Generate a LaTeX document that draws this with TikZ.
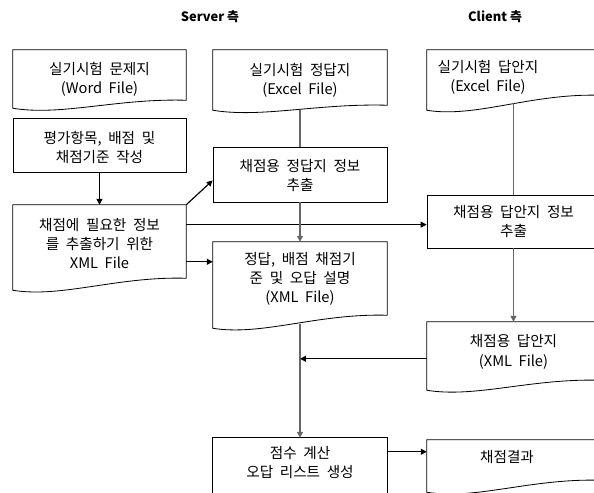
\documentclass[tikz,border=0pt]{standalone}
\usepackage{fontspec}
\setmainfont[WordSpace=2]{Noto Sans CJK KR}
\newfontfamily\titlefont{Noto Sans CJK KR}
\usetikzlibrary{fit,calc,arrows.meta}
\newcommand\docshape[3]{%
  \draw[outline] ($(#1.south west)+(0,#3)$) -- (#1.north west) -- (#1.north east) -- ($(#1.south east)+(0,#2)$)
    .. controls ($(#1.south east)!0.4!(#1.south west)+(0,#2-2)$) and ($(#1.south east)!0.72!(#1.south west)+(0,#3+8)$) .. ($(#1.south west)+(0,#3)$) -- cycle;}
\begin{document}
\begin{tikzpicture}[x=0.03cm,y=-0.03cm,
  boxfit/.style={inner sep=0pt},
  txt/.style={inner sep=0pt, align=center, font=\fontsize{12.5}{16.5}\selectfont},
  outline/.style={draw=black, line width=0.7pt},
  conn/.style={draw=black, line width=1pt, -{Triangle[length=5pt,width=5pt]}},
  vconn/.style={draw=black!60, line width=1.4pt, -{Triangle[length=5pt,width=5pt]}},
  plainline/.style={draw=black!60, line width=1.4pt},
  title/.style={font=\titlefont\bfseries\fontsize{11}{13}\selectfont}]
\useasboundingbox (0,0) rectangle (594,492);
\clip (0,0) rectangle (594,492);

\node[title] (ts) at (210,17) {Server 측};
\node[title] (tc) at (495,17) {Client 측};

% server column 1
\node[boxfit, fit={(13,50) (186,108)}] (b1) {};
\docshape{b1}{-8}{0}
\node[txt] (b1t) at (b1.center) {실기시험 문제지\\(Word File)};
\node[boxfit, outline, fit={(13,118) (186,172)}] (b2) {};
\node[txt] (b2t) at ([yshift=-2pt]b2.center) {평가항목, 배점 및\\채점기준 작성};
\node[boxfit, fit={(13,205) (186,282)}] (b3) {};
\docshape{b3}{-4}{8}
\node[txt] (b3t) at (b3.center) {채점에 필요한 정보\\를 추출하기 위한\\XML File};

% server column 2
\node[boxfit, fit={(213,50) (387,110)}] (b4) {};
\docshape{b4}{-5}{0}
\node[txt] (b4t) at (b4.center) {실기시험 정답지\\(Excel File)};
\node[boxfit, outline, fit={(213,147) (387,202)}] (b5) {};
\node[txt] (b5t) at ([yshift=-1pt]b5.center) {채점용 정답지 정보\\추출};
\node[boxfit, fit={(213,242) (387,316)}] (b6) {};
\docshape{b6}{-1}{12}
\node[txt] (b6t) at (b6.center) {정답, 배점 채점기\\준 및 오답 설명\\(XML File)};

% client column
\node[boxfit, fit={(427,50) (600,110)}] (b7) {};
\docshape{b7}{-15}{0}
\node[txt] (b7t) at (488,77) {실기시험 답안지\\(Excel File)};
\node[boxfit, outline, fit={(427,195) (600,248)}] (b9) {};
\node[txt] (b9t) at (b9.center) {채점용 답안지 정보\\추출};
\node[boxfit, fit={(427,322) (600,382)}] (b8) {};
\docshape{b8}{-2}{8}
\node[txt] (b8t) at (b8.center) {채점용 답안지\\(XML File)};

% bottom row
\node[boxfit, fit={(213,438) (387,487)}] (b11) {};
\draw[outline] (b11.north west) rectangle ($(b11.south east)+(0,20)$);
\node[txt] (b11t) at (b11.center) {점수 계산\\오답 리스트 생성};
\node[boxfit, fit={(427,440) (600,474)}] (b10) {};
\docshape{b10}{6}{18}
\node[txt] (b10t) at (507,457) {채점결과};

% connectors
\draw[conn] (b2.south) -- (b3.north);
\draw[plainline] (b4.south) -- (b5.north);
\coordinate (c5) at ($(b5.south west)+(0,-22)$);
\draw[conn] (b3.north east) -- (c5);
\coordinate (c9) at ($(b9.north west)+(0,30)$);
\draw[conn] (b3.east |- c9) -- (c9);
\coordinate (c6) at ($(b6.north west)+(0,20)$);
\draw[conn] (b3.east |- c6) -- (c6);
\draw[vconn] (b5.south) -- (b6.north);
\coordinate (c7) at ($(b9.north |- b7.south)+(0,-7)$);
\draw[plainline] (c7) -- (b9.north);
\draw[vconn] (b9.south) -- (b8.north);
\draw[vconn] ($(b6.south)+(0,8)$) -- (b11.north);
\coordinate (c8) at ($(b8.north west)+(0,37)$);
\draw[conn] (c8) -- (c8 -| b6.south);
\coordinate (c10) at ($(b10.north west)+(0,12)$);
\draw[conn] (b11.east |- c10) -- (c10);
\end{tikzpicture}
\end{document}
